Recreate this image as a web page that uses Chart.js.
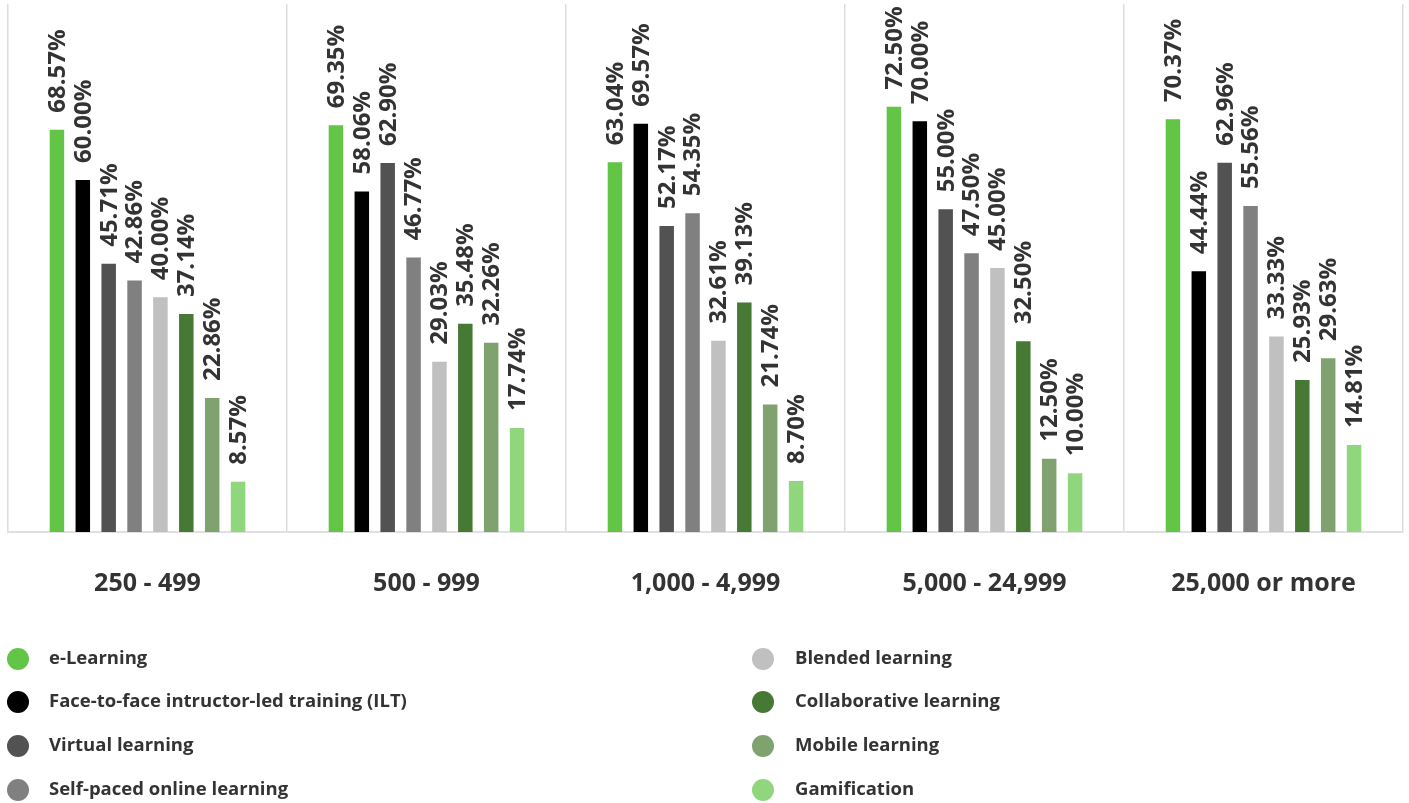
<!DOCTYPE html>
<html>
<head>
<meta charset="utf-8">
<script src="https://cdn.jsdelivr.net/npm/chart.js@4/dist/chart.umd.min.js"></script>
<style>
  html, body { margin: 0; padding: 0; background: #fff; }
  canvas { display: block; }
</style>
</head>
<body>
<canvas id="chart-methods" width="1409" height="803"></canvas>
<script>
var categories = ['250 - 499', '500 - 999', '1,000 - 4,999', '5,000 - 24,999', '25,000 or more'];
var seriesNames = [
  'e-Learning',
  'Face-to-face intructor-led training (ILT)',
  'Virtual learning',
  'Self-paced online learning',
  'Blended learning',
  'Collaborative learning',
  'Mobile learning',
  'Gamification',
];
var eLearning     = [68.57, 69.35, 63.04, 72.50, 70.37];
var faceToFace    = [60.00, 58.06, 69.57, 70.00, 44.44];
var virtual       = [45.71, 62.90, 52.17, 55.00, 62.96];
var selfPaced     = [42.86, 46.77, 54.35, 47.50, 55.56];
var blended       = [40.00, 29.03, 32.61, 45.00, 33.33];
var collaborative = [37.14, 35.48, 39.13, 32.50, 25.93];
var mobile        = [22.86, 32.26, 21.74, 12.50, 29.63];
var gamification  = [8.57, 17.74, 8.70, 10.00, 14.81];
var colors = ['#62c546', '#000000', '#525252', '#808080', '#c0c0c0', '#467a34', '#7fa26f', '#8fd67c'];

var allSeries = [eLearning, faceToFace, virtual, selfPaced, blended, collaborative, mobile, gamification];

// value labels, rotated, sitting above each bar
var barLabels = {
  id: 'barLabels',
  afterDatasetsDraw: function (chart) {
    let ctx = chart.ctx;
    ctx.save();
    ctx.font = 'bold 24px "Open Sans"';
    ctx.fillStyle = '#333333';
    ctx.textAlign = 'left';
    ctx.textBaseline = 'middle';
    chart.data.datasets.forEach((ds, i) => {
      chart.getDatasetMeta(i).data.forEach((bar, j) => {
        ctx.save();
        ctx.translate(bar.x, bar.y - 17);
        ctx.rotate(-Math.PI / 2);
        ctx.fillText(ds.data[j].toFixed(2) + '%', 0, 1);
        ctx.restore();
      });
    });
    ctx.restore();
  },
};

// two-column legend under the chart
var sideLegend = {
  id: 'sideLegend',
  afterDraw: function (chart) {
    let ctx = chart.ctx;
    let rows = [659, 702, 746, 790];
    ctx.save();
    ctx.font = 'bold 18.5px "Open Sans"';
    ctx.textBaseline = 'middle';
    ctx.textAlign = 'left';
    chart.data.datasets.forEach((ds, i) => {
      let col = i < 4 ? 0 : 1;
      let cx = col ? 763 : 18;
      let tx = col ? 795 : 49;
      let y = rows[i % 4];
      ctx.fillStyle = ds.backgroundColor;
      ctx.beginPath();
      ctx.arc(cx, y, 11, 0, Math.PI * 2);
      ctx.fill();
      ctx.fillStyle = '#333333';
      ctx.fillText(ds.label, tx, y);
    });
    ctx.restore();
  },
};

var ctx = document.getElementById('chart-methods').getContext('2d');
var chart = new Chart(ctx, {
  type: 'bar',
  plugins: [barLabels, sideLegend],
  data: {
    labels: categories,
    datasets: allSeries.map((vals, i) => ({
      label: seriesNames[i],
      data: vals,
      backgroundColor: colors[i],
      borderWidth: 0,
      categoryPercentage: 0.742,
      barPercentage: 0.56,
    })),
  },
  options: {
    responsive: false,
    animation: false,
    layout: {
      padding: { top: 4, left: 8, right: 6, bottom: 201 },
    },
    plugins: {
      legend: { display: false },
      tooltip: { enabled: false },
    },
    scales: {
      x: {
        grid: { offset: true, color: '#dddddd', lineWidth: 1.5, drawTicks: false },
        border: { color: '#e0e0e0', width: 2 },
        ticks: {
          color: '#333333',
          font: { family: 'Open Sans', weight: 'bold', size: 25 },
          padding: 37,
        },
        afterFit: function (scale) {
          scale.height = 70;
        },
      },
      y: {
        display: false,
        min: 0,
        max: 90,
      },
    },
  },
});
</script>
</body>
</html>
